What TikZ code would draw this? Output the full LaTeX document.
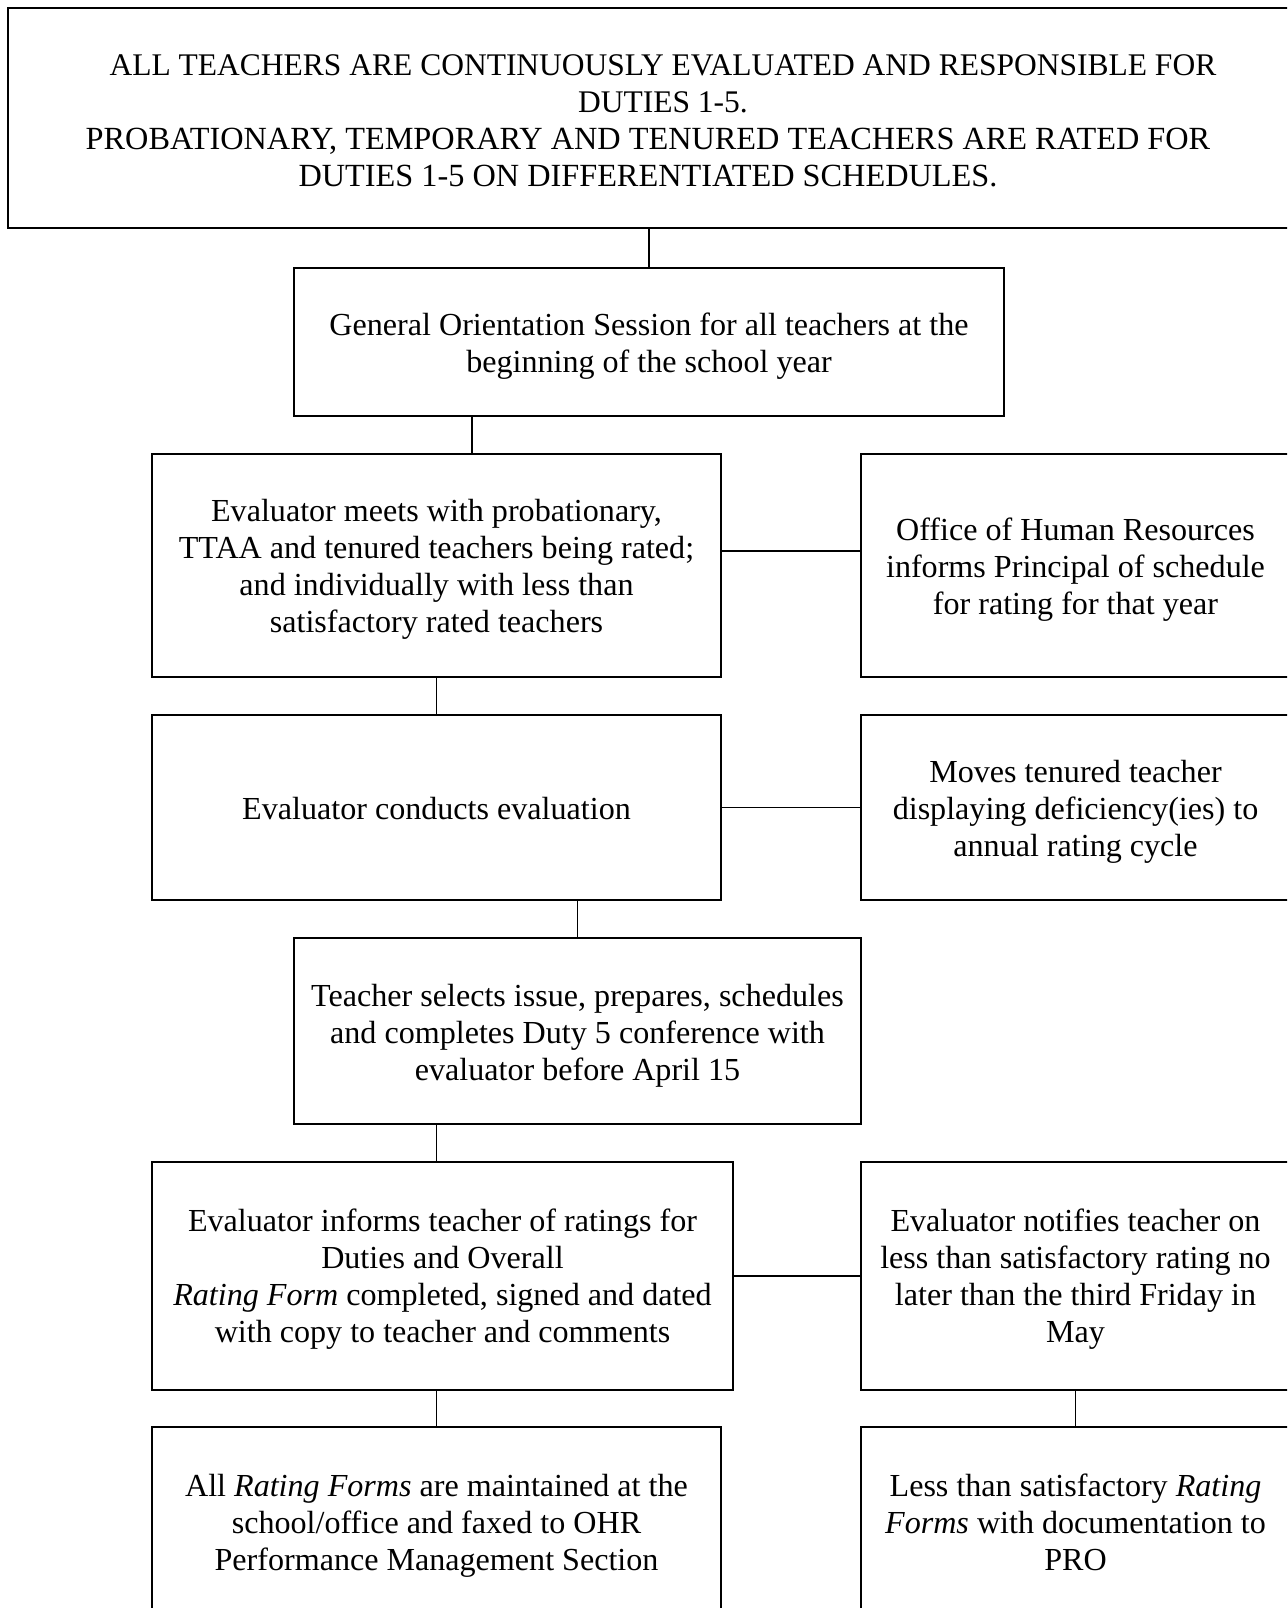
\documentclass[tikz,border=0pt]{standalone}
\usepackage{fontspec}
\setmainfont{Liberation Serif}
\begin{document}
\begin{tikzpicture}[x=1pt,y=-1pt,
  box/.style={draw,line width=2pt,inner sep=0pt},
  txt/.style={align=center,inner sep=0pt,
    font=\fontsize{32.1}{37}\selectfont,
    execute at begin node=\strut, execute at end node=\strut},
  conn/.style={line width=1.5pt}]
\useasboundingbox[fill=white] (0,0) rectangle (1287,1608);
\clip (0,0) rectangle (1287,1608);
% frames
\node[box,minimum width=1310,minimum height=220] (top) at (663,118) {};
\node[box,minimum width=710,minimum height=148] (gen) at (649,342) {};
\node[box,minimum width=569,minimum height=223] (meets) at (436.5,565.5) {};
\node[box,minimum width=429,minimum height=223] (office) at (1075.5,565.5) {};
\node[box,minimum width=569,minimum height=185] (conducts) at (436.5,807.5) {};
\node[box,minimum width=429,minimum height=185] (moves) at (1075.5,807.5) {};
\node[box,minimum width=567,minimum height=186] (teach) at (577.5,1031) {};
\node[box,minimum width=581,minimum height=228] (informs) at (442.5,1276) {};
\node[box,minimum width=429,minimum height=228] (notifies) at (1075.5,1276) {};
\node[box,minimum width=569,minimum height=190] (allforms) at (436.5,1522) {};
\node[box,minimum width=429,minimum height=190] (lessforms) at (1075.5,1522) {};
% texts
\node[txt,font=\fontsize{31.5}{37}\selectfont] (top-t) at ([yshift=-8.2pt]top.center)
 {ALL TEACHERS ARE CONTINUOUSLY EVALUATED AND RESPONSIBLE FOR\\DUTIES 1-5.\\{\fontsize{32.3}{37}\selectfont PROBATIONARY, TEMPORARY AND TENURED TEACHERS ARE RATED FOR}\kern30pt\\{\fontsize{32.3}{37}\selectfont DUTIES 1-5 ON DIFFERENTIATED SCHEDULES.}\kern30pt};
\node[txt] (gen-t) at ([yshift=-6pt]gen.center)
 {General Orientation Session for all teachers at the\\beginning of the school year};
\node[txt] (meets-t) at ([yshift=-6pt]meets.center)
 {Evaluator meets with probationary,\\TTAA and tenured teachers being rated;\\and individually with less than\\satisfactory rated teachers};
\node[txt] (office-t) at ([yshift=-6pt]office.center)
 {Office of Human Resources\\informs Principal of schedule\\for rating for that year};
\node[txt] (conducts-t) at ([yshift=-5pt]conducts.center)
 {Evaluator conducts evaluation};
\node[txt] (moves-t) at ([yshift=-6pt]moves.center)
 {Moves tenured teacher\\displaying deficiency(ies) to\\annual rating cycle};
\node[txt] (teach-t) at ([yshift=-6.5pt]teach.center)
 {Teacher selects issue, prepares, schedules\\and completes Duty 5 conference with\\evaluator before April 15};
\node[txt] (informs-t) at ([yshift=-5.5pt]informs.center)
 {Evaluator informs teacher of ratings for\\Duties and Overall\\\textit{Rating Form} completed, signed and dated\\with copy to teacher and comments};
\node[txt] (notifies-t) at ([yshift=-5.5pt]notifies.center)
 {Evaluator notifies teacher on\\less than satisfactory rating no\\later than the third Friday in\\May};
\node[txt] (allforms-t) at ([yshift=-5.5pt]allforms.center)
 {All \textit{Rating Forms} are maintained at the\\school/office and faxed to OHR\\Performance Management Section};
\node[txt] (lessforms-t) at ([yshift=-5.5pt]lessforms.center)
 {Less than satisfactory \textit{Rating}\\\textit{Forms} with documentation to\\PRO};
% connectors
\draw[conn] (gen.north) -- (gen.north |- top.south);
\draw[conn] ([xshift=35.5pt]meets.north) -- ([xshift=35.5pt]meets.north |- gen.south);
\draw[conn] (conducts.north) -- (conducts.north |- meets.south);
\draw[conn] (teach.north) -- (teach.north |- conducts.south);
\draw[conn] (allforms.north |- informs.north) -- (allforms.north |- teach.south);
\draw[conn] (allforms.north) -- (allforms.north |- informs.south);
\draw[conn] (lessforms.north) -- (notifies.south);
\draw[conn] ([yshift=14.5pt]meets.east) -- ([yshift=14.5pt]office.west);
\draw[conn] (conducts.east) -- (moves.west);
\draw[conn] (informs.east) -- (notifies.west);
\end{tikzpicture}
\end{document}
